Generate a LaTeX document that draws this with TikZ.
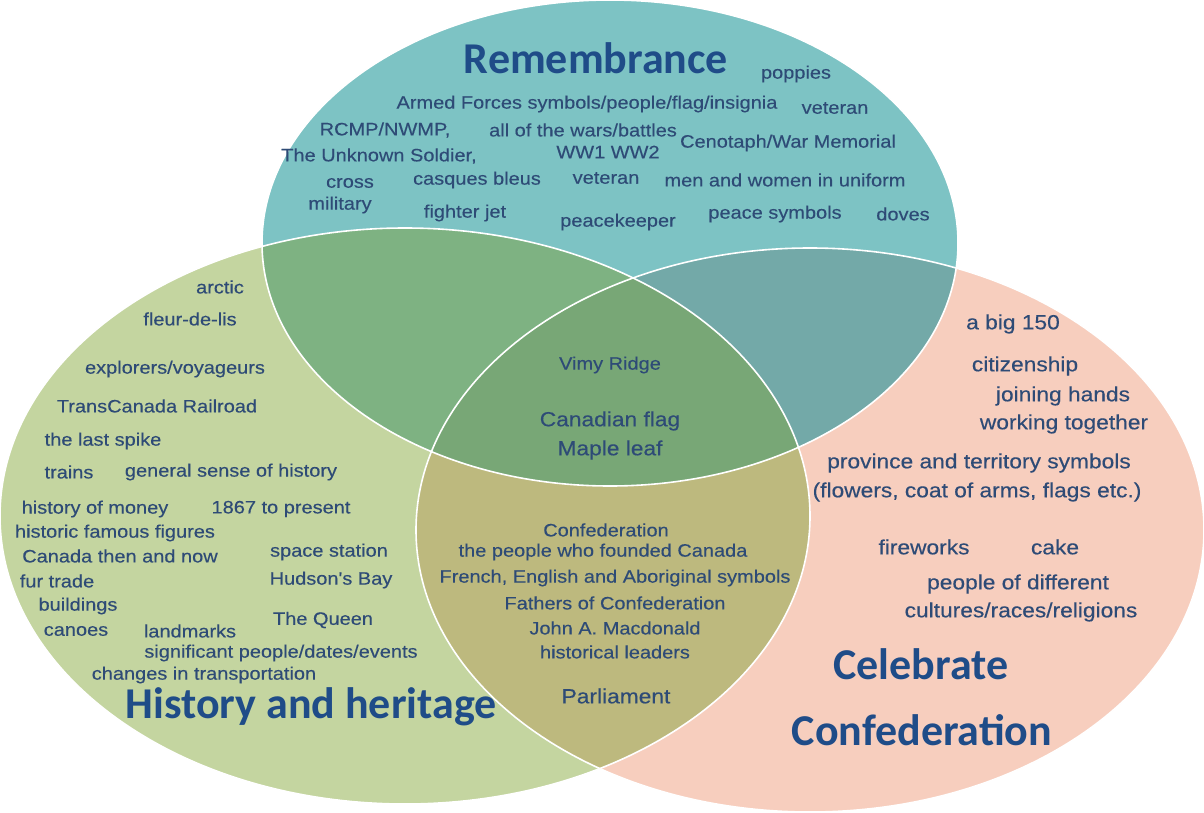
\documentclass[tikz,border=0pt]{standalone}
\usepackage{fontspec}
\setmainfont{Liberation Sans}
\newfontfamily\wideface[FakeStretch=1.11,FakeBold=0.3]{Liberation Sans}
\newfontfamily\titleface{Carlito}
\definecolor{tealc}{HTML}{7DC3C4}
\definecolor{greenc}{HTML}{C4D5A0}
\definecolor{pinkc}{HTML}{F7CEBE}
\definecolor{tgc}{HTML}{7EB282}
\definecolor{tpc}{HTML}{73A9A8}
\definecolor{gpc}{HTML}{BDB97E}
\definecolor{allc}{HTML}{78A776}
\definecolor{txtc}{HTML}{2E4B76}
\definecolor{ttlc}{HTML}{1F4C88}
\begin{document}
\begin{tikzpicture}[x=1pt,y=-1pt,
  lbl/.style={inner sep=0pt,text=txtc,font=\wideface\fontsize{18}{20}\selectfont},
  lblb/.style={lbl,font=\wideface\fontsize{20.5}{22}\selectfont},
  lblc/.style={lbl,font=\wideface\fontsize{20.5}{22}\selectfont},
  ttl/.style={inner sep=0pt,text=ttlc,font=\titleface\bfseries\fontsize{44}{48}\selectfont}]
\useasboundingbox (0,0) rectangle (1204,813);
\fill[white] (0,0) rectangle (1204,813);
\def\teal{(610,243) ellipse [x radius=348, y radius=243]}
\def\grn{(405,516) ellipse [x radius=405, y radius=288]}
\def\pnk{(810,530) ellipse [x radius=394, y radius=282]}
\fill[greenc] \grn;
\fill[pinkc] \pnk;
\fill[tealc] \teal;
\begin{scope}\clip \grn; \fill[gpc] \pnk; \end{scope}
\begin{scope}\clip \teal; \fill[tgc] \grn; \fill[tpc] \pnk; \end{scope}
\begin{scope}\clip \teal; \clip \grn; \fill[allc] \pnk; \end{scope}
\draw[white,line width=1.6] \grn;
\draw[white,line width=1.6] \pnk;
\draw[white,line width=1.6] \teal;
% Remembrance
\node[ttl] (tR) at (596,58) {Remembrance};
\node[lbl] (r1) at (796,74) {poppies};
\node[lbl] (r2) at (587,104) {Armed Forces symbols/people/flag/insignia};
\node[lbl] (r3) at (835,108) {veteran};
\node[lbl] (r4) at (385,130) {RCMP/NWMP,};
\node[lbl] (r5) at (583,130) {all of the wars/battles};
\node[lbl] (r6) at (788,143) {Cenotaph/War Memorial};
\node[lbl] (r7) at (379,156) {The Unknown Soldier,};
\node[lbl] (r8) at (608,152) {WW1 WW2};
\node[lbl] (r9) at (350,183) {cross};
\node[lbl] (r10) at (477,180) {casques bleus};
\node[lbl] (r11) at (606,178) {veteran};
\node[lbl] (r12) at (785,180) {men and women in uniform};
\node[lbl] (r13) at (340,205) {military};
\node[lbl] (r14) at (465,213) {fighter jet};
\node[lbl] (r15) at (618,222) {peacekeeper};
\node[lbl] (r16) at (775,214) {peace symbols};
\node[lbl] (r17) at (903,214) {doves};
% History
\node[lbl] (h1) at (220,287) {arctic};
\node[lbl] (h2) at (190,319) {fleur-de-lis};
\node[lbl] (h3) at (175,369) {explorers/voyageurs};
\node[lbl] (h4) at (157,406) {TransCanada Railroad};
\node[lbl] (h5) at (103,441) {the last spike};
\node[lbl] (h6) at (69,472) {trains};
\node[lbl] (h7) at (231,472) {general sense of history};
\node[lbl] (h8) at (95,509) {history of money};
\node[lbl] (h9) at (281,509) {1867 to present};
\node[lbl] (h10) at (115,533) {historic famous figures};
\node[lbl] (h11) at (120,556) {Canada then and now};
\node[lbl] (h12) at (329,552) {space station};
\node[lbl] (h13) at (57,581) {fur trade};
\node[lbl] (h14) at (331,580) {Hudson's Bay};
\node[lbl] (h15) at (78,606) {buildings};
\node[lbl] (h16) at (323,620) {The Queen};
\node[lbl] (h17) at (76,631) {canoes};
\node[lbl] (h18) at (190,631) {landmarks};
\node[lbl] (h19) at (281,653) {significant people/dates/events};
\node[lbl] (h20) at (204,675) {changes in transportation};
\node[ttl] (tH) at (311,707) {History and heritage};
% Center
\node[lbl] (c1) at (610,365) {Vimy Ridge};
\node[lblc] (c2) at (610,421) {Canadian flag};
\node[lblc] (c3) at (610,450) {Maple leaf};
\node[lbl] (c4) at (606,530) {Confederation};
\node[lbl] (c5) at (603,552) {the people who founded Canada};
\node[lbl] (c6) at (615,578) {French, English and Aboriginal symbols};
\node[lbl] (c7) at (615,603) {Fathers of Confederation};
\node[lbl] (c8) at (615,628) {John A. Macdonald};
\node[lbl] (c9) at (615,652) {historical leaders};
\node[lblb] (c10) at (616,696) {Parliament};
% Celebrate
\node[lblb] (p1) at (1013,324) {a big 150};
\node[lblb] (p2) at (1025,366) {citizenship};
\node[lblb] (p3) at (1063,396) {joining hands};
\node[lblb] (p4) at (1064,424) {working together};
\node[lblb] (p5) at (979,463) {province and territory symbols};
\node[lblb] (p6) at (977,492) {(flowers, coat of arms, flags etc.)};
\node[lblb] (p7) at (924,547) {fireworks};
\node[lblb] (p8) at (1055,547) {cake};
\node[lblb] (p9) at (1018,584) {people of different};
\node[lblb] (p10) at (1021,612) {cultures/races/religions};
\node[ttl] (tC1) at (921,664) {Celebrate};
\node[ttl] (tC2) at (922,730) {Confederation};
\end{tikzpicture}
\end{document}
